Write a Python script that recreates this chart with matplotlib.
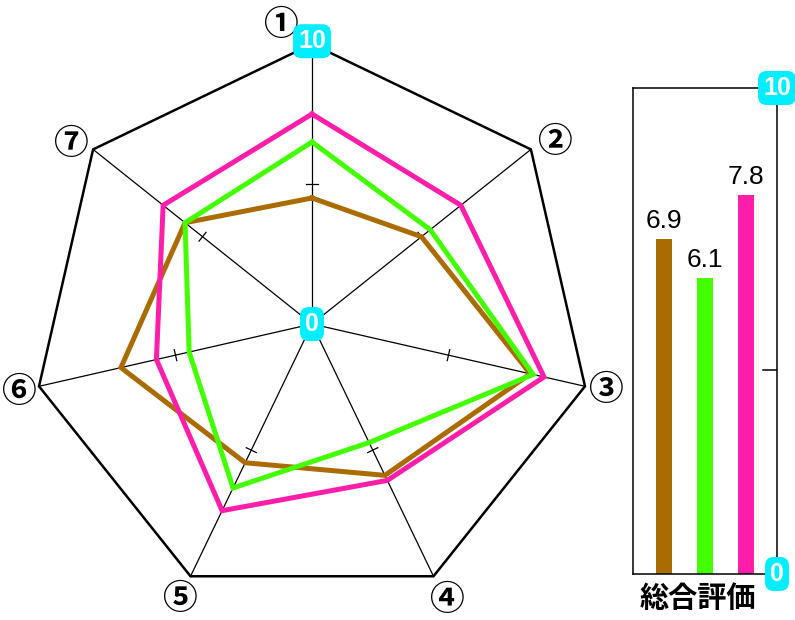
import numpy as np
import matplotlib
matplotlib.use("Agg")
import matplotlib.pyplot as plt

# ---- data ----
axis_labels = ["①", "②", "③", "④", "⑤", "⑥", "⑦"]
brown_vals = [4.5, 5.0, 8.0, 6.0, 5.5, 7.0, 5.8]
green_vals = [6.5, 5.4, 8.1, 4.7, 6.5, 4.5, 5.8]
pink_vals = [7.5, 6.8, 8.5, 6.2, 7.4, 5.7, 6.8]
total_scores = [6.9, 6.1, 7.8]
total_title = "総合評価"
r_max = 10
r_tick = 5

colors = ["#AA6B00", "#44FF00", "#FF1EAA"]
cyan = "#00EEFF"

plt.rcParams['font.family'] = ['Noto Sans CJK JP', 'DejaVu Sans']

fig = plt.figure(figsize=(7.95, 6.2), dpi=100)

# ---- radar ----
R = 280
cx, cy = 312, 324
W, H = 795, 620
ax = fig.add_axes([(cx - R) / W, (H - cy - R) / H, 2 * R / W, 2 * R / H], projection='polar')
ax.set_theta_offset(np.pi / 2)
ax.set_theta_direction(-1)
ax.set_ylim(0, r_max)
ax.set_axis_off()

n = len(axis_labels)
theta = np.arange(n) * 2 * np.pi / n
theta_c = np.append(theta, theta[0])

# outer heptagon
ax.plot(theta_c, [r_max] * (n + 1), color='black', lw=1.8, solid_joinstyle='miter', clip_on=False)
# spokes and mid ticks
for t in theta:
    ax.plot([t, t], [0, r_max], color='black', lw=0.9, clip_on=False)
    half = 0.2
    d = np.arctan(half / r_tick)
    rr = r_tick / np.cos(d)
    ax.plot([t - d, t + d], [rr, rr], color='black', lw=0.9)

for vals, c in zip([brown_vals, green_vals, pink_vals], colors):
    v = list(vals) + [vals[0]]
    ax.plot(theta_c, v, color=c, lw=3.6, solid_joinstyle='miter', zorder=3)

# circled labels
label_offsets = [(-23, 14), (17, 6), (15, -2), (9, -17), (-8, -16), (-15, -4), (-16, 4)]
for t, lab, off in zip(theta, axis_labels, label_offsets):
    ax.annotate(lab, xy=(t, r_max), xytext=off, textcoords='offset points',
                ha='center', va='center', fontsize=25, fontweight='bold', annotation_clip=False)

badge = dict(boxstyle='round,pad=0.2,rounding_size=0.35', fc=cyan, ec='none')
bfont = dict(fontsize=18, fontweight='bold', color='white',
             family=['Liberation Sans Narrow', 'Liberation Sans', 'DejaVu Sans'])
ax.annotate(str(r_max), xy=(0, r_max), xytext=(0, 2), textcoords='offset points',
            ha='center', va='center', bbox=badge, zorder=5, annotation_clip=False, **bfont)
ax.text(0, 0, "0", ha='center', va='center', bbox=badge, zorder=5, **bfont)

# ---- bar panel ----
bl, br, bt, bb = 633, 777, 88, 574
bax = fig.add_axes([bl / W, (H - bb) / H, (br - bl) / W, (bb - bt) / H])
x = np.arange(len(total_scores))
bax.bar(x, total_scores, width=0.39, color=colors)
bax.set_xlim(-0.75, 2.75)
bax.set_ylim(0, r_max)
for s in bax.spines.values():
    s.set_linewidth(1.1)
bax.set_xticks([])
bax.set_yticks([])
bax.axhline(4.2, xmin=0.9, xmax=1.0, color='black', lw=1.1)
for xi, s in zip(x, total_scores):
    bax.annotate(f"{s:.1f}", xy=(xi, s), xytext=(0, 4), textcoords='offset points',
                 ha='center', va='bottom', fontsize=19, family=['Liberation Sans', 'DejaVu Sans'])
bax.text(1.0, 1.0, str(r_max), transform=bax.transAxes, ha='center', va='center',
         bbox=badge, zorder=5, clip_on=False, **bfont)
bax.text(1.0, 0.0, "0", transform=bax.transAxes, ha='center', va='center',
         bbox=badge, zorder=5, clip_on=False, **bfont)
bax.text(0.45, -0.05, total_title, transform=bax.transAxes, ha='center', va='center',
         fontsize=21, fontweight='bold')

fig.savefig("out.png", dpi=100)
